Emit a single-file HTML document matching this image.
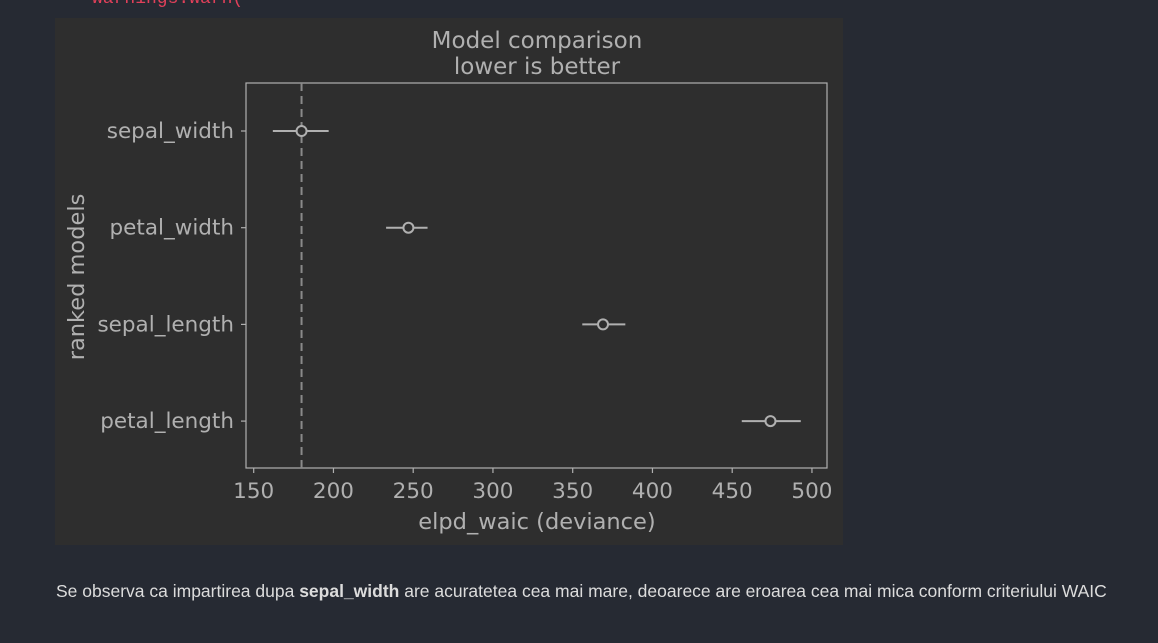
<!DOCTYPE html>
<html><head><meta charset="utf-8"><style>
body{margin:0;width:1158px;height:643px;background:#262a33;overflow:hidden;position:relative;font-family:"Liberation Sans",sans-serif}
#warn{position:absolute;left:92px;top:-11px;font:18px "Liberation Mono",monospace;color:#e0405a}
#fig{position:absolute;left:55px;top:18px}
#note{position:absolute;left:56px;top:581px;font-size:17.5px;color:#dcdcdc;white-space:nowrap}
</style></head><body>
<div id="warn">warnings.warn(</div>
<svg id="fig" width="788" height="527"></svg>
<div id="note">Se observa ca impartirea dupa <b>sepal_width</b> are acuratetea cea mai mare, deoarece are eroarea cea mai mica conform criteriului WAIC</div>
<script>
const models=["sepal_width","petal_width","sepal_length","petal_length"];
const elpd=[180,247,369,474];
const errLo=[162,233,356,456];
const errHi=[197,259,383,493];
const xTicks=[150,200,250,300,350,400,450,500];
const bestLine=180;
const ns="http://www.w3.org/2000/svg",svg=document.getElementById('fig');
const L=191,R=772,T=65,B=450,C="#b0b0b0";
const x=v=>198.7+(v-150)*1.595;
const y=i=>113+i*96.7;
function mk(t,a,p){const e=document.createElementNS(ns,t);for(const k in a)e.setAttribute(k,a[k]);(p||svg).appendChild(e);return e;}
const bg=mk('rect',{x:0,y:0,width:788,height:527,fill:'#2e2e2e'});

const fr=mk('rect',{x:L,y:T,width:R-L,height:B-T,fill:'none',stroke:C,'stroke-width':1.2});

const tf={fill:C,'font-family':'DejaVu Sans, sans-serif','font-size':21.5};
const tt=Object.assign({},tf,{'font-size':23});
const ta=Object.assign({},tf,{'font-size':22.5});
let t=mk('text',Object.assign({x:482,y:30,'text-anchor':'middle'},tt));t.textContent='Model comparison';

t=mk('text',Object.assign({x:482,y:56,'text-anchor':'middle'},tt));t.textContent='lower is better';

const dl=mk('line',{x1:x(bestLine),x2:x(bestLine),y1:T,y2:B,stroke:'#8a8a8a','stroke-width':2,'stroke-dasharray':'8,5'});

xTicks.forEach(v=>{
 mk('line',{x1:x(v),x2:x(v),y1:B,y2:B+5,stroke:C,'stroke-width':1.2});
 const e=mk('text',Object.assign({x:x(v),y:B+30,'text-anchor':'middle'},tf));e.textContent=v;
 
});
t=mk('text',Object.assign({x:482,y:511,'text-anchor':'middle'},ta));t.textContent='elpd_waic (deviance)';

t=mk('text',Object.assign({x:0,y:0,'text-anchor':'middle',transform:'translate(29,259) rotate(-90)'},ta));t.textContent='ranked models';

models.forEach((m,i)=>{
 const yy=y(i);
 mk('line',{x1:L-5,x2:L,y1:yy,y2:yy,stroke:C,'stroke-width':1.2});
 const lb=mk('text',Object.assign({x:L-12,y:yy+7,'text-anchor':'end'},tf));lb.textContent=m;
 
 const g=mk('g',{});
 
 
 mk('line',{x1:x(errLo[i]),x2:x(errHi[i]),y1:yy,y2:yy,stroke:C,'stroke-width':2},g);
 mk('circle',{cx:x(elpd[i]),cy:yy,r:5,fill:'#2e2e2e',stroke:C,'stroke-width':2},g);
});
</script>
</body></html>
